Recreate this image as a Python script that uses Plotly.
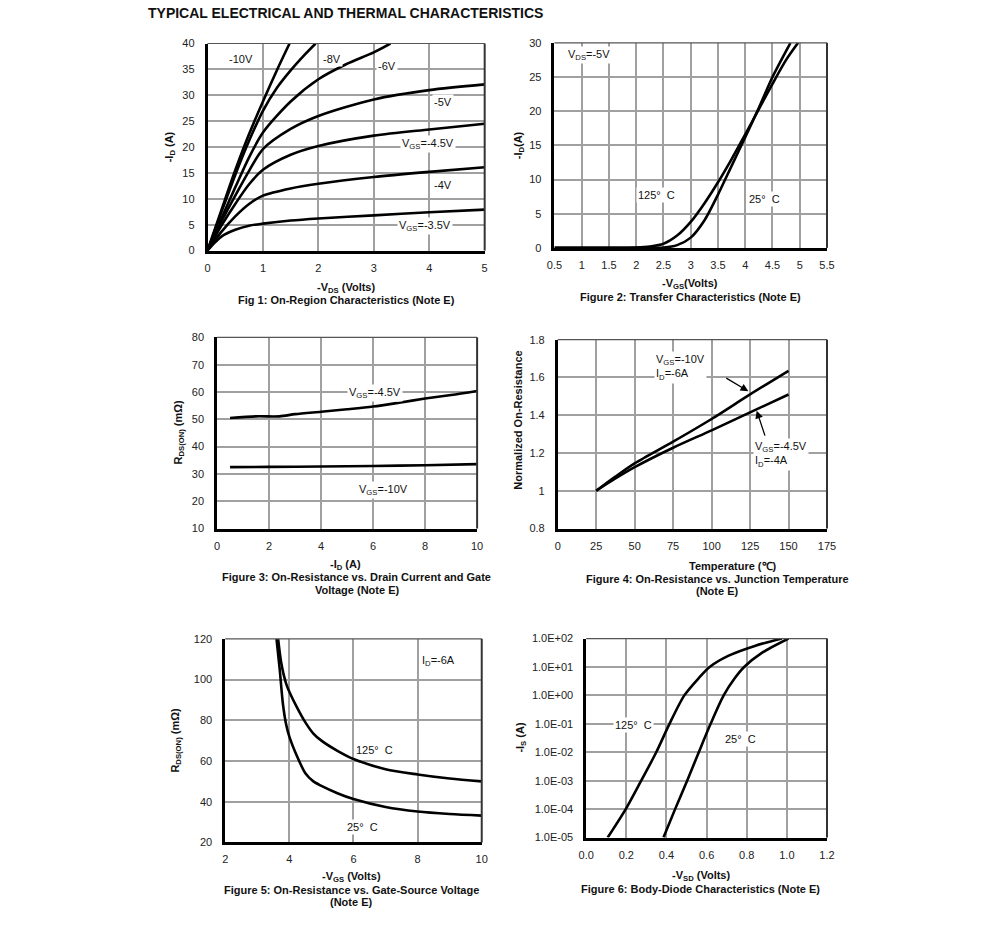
import plotly.graph_objects as go

W, H = 991, 941

# ---------------- Data ----------------
# Fig 1: On-region characteristics  (-VDS, -ID)
f1_vgs10_x = [0, 0.25, 0.5, 0.75, 1.0, 1.25, 1.48]
f1_vgs10_y = [0, 7.8, 15.5, 22.5, 28.8, 34.8, 40]
f1_vgs8_x = [0, 0.25, 0.5, 0.75, 1.0, 1.25, 1.5, 1.75, 1.95]
f1_vgs8_y = [0, 7.4, 14.6, 21.2, 27.0, 31.4, 34.8, 37.8, 40]
f1_vgs6_x = [0, 0.25, 0.5, 0.75, 1.0, 1.5, 2.0, 2.5, 3.0, 3.3]
f1_vgs6_y = [0, 6.2, 12.2, 18.0, 22.8, 28.8, 33.1, 36.0, 38.3, 40]
f1_vgs5_x = [0, 0.25, 0.5, 0.75, 1.0, 1.5, 2.0, 3.0, 4.0, 5.0]
f1_vgs5_y = [0, 5.6, 10.6, 15.4, 19.6, 23.5, 26.0, 29.2, 31.0, 32.1]
f1_vgs45_x = [0, 0.25, 0.5, 0.75, 1.0, 1.5, 2.0, 3.0, 4.0, 5.0]
f1_vgs45_y = [0, 4.8, 9.0, 12.8, 15.6, 18.5, 20.2, 22.2, 23.4, 24.5]
f1_vgs4_x = [0, 0.25, 0.5, 0.75, 1.0, 1.5, 2.0, 3.0, 4.0, 5.0]
f1_vgs4_y = [0, 3.6, 6.6, 9.0, 10.6, 12.0, 12.9, 14.2, 15.2, 16.1]
f1_vgs35_x = [0, 0.1, 0.25, 0.5, 0.75, 1.0, 1.5, 2.0, 3.0, 4.0, 5.0]
f1_vgs35_y = [0, 1.2, 2.7, 4.0, 4.8, 5.2, 5.8, 6.2, 6.8, 7.4, 7.9]

# Fig 2: Transfer characteristics (-VGS, -ID)
f2_125_x = [0.5, 1.5, 2.0, 2.25, 2.5, 2.75, 3.0, 3.25, 3.5, 3.75, 4.0, 4.25, 4.5, 4.75, 4.97]
f2_125_y = [0, 0, 0.05, 0.2, 0.6, 1.8, 3.8, 6.5, 9.6, 13.0, 16.6, 20.3, 24.0, 27.5, 30]
f2_25_x = [0.5, 2.0, 2.5, 2.75, 3.0, 3.25, 3.5, 3.75, 4.0, 4.25, 4.5, 4.83]
f2_25_y = [0, 0, 0.05, 0.4, 1.5, 4.0, 7.8, 12.0, 16.2, 20.5, 25.0, 30]

# Fig 3: RDS(ON) vs ID
f3_45_x = [0.5, 1.5, 2.4, 3, 4, 5, 6, 7, 8, 9, 10]
f3_45_y = [50.5, 51.1, 51.1, 51.9, 52.8, 53.7, 54.7, 56.1, 57.6, 58.9, 60.4]
f3_10_x = [0.5, 2, 4, 6, 8, 10]
f3_10_y = [32.5, 32.6, 32.7, 32.9, 33.2, 33.6]

# Fig 4: Normalized RDS(ON) vs temperature
f4_t = [25, 37.5, 50, 75, 100, 125, 150]
f4_10_y = [1.0, 1.075, 1.145, 1.26, 1.38, 1.51, 1.635]
f4_45_y = [1.0, 1.065, 1.125, 1.228, 1.32, 1.415, 1.51]

# Fig 5: RDS(ON) vs VGS
f5_25_x = [3.6, 3.7, 3.8, 3.9, 4.0, 4.25, 4.5, 4.75, 5, 5.5, 6, 7, 8, 9, 10]
f5_25_y = [120, 105, 88, 78, 72, 62, 54, 50, 47.8, 44.2, 41.3, 37.4, 35.2, 34.0, 33.2]
f5_125_x = [3.65, 3.75, 3.9, 4.0, 4.25, 4.5, 4.75, 5, 5.5, 6, 7, 8, 9, 10]
f5_125_y = [120, 108, 98, 94, 86, 79, 73.5, 70, 65, 61, 56, 53.4, 51.4, 50]

# Fig 6: Body diode (-VSD, -IS)
f6_125_x = [0.107, 0.197, 0.274, 0.349, 0.415, 0.489, 0.56, 0.615, 0.71, 0.84, 0.975]
f6_125_y = [1e-5, 1e-4, 1e-3, 1e-2, 1e-1, 1e0, 4.0, 1e1, 25, 55, 100]
f6_25_x = [0.385, 0.443, 0.503, 0.561, 0.620, 0.685, 0.74, 0.787, 0.877, 1.008]
f6_25_y = [1e-5, 1e-4, 1e-3, 1e-2, 1e-1, 1e0, 4.0, 1e1, 31.8, 100]

f6_tickvals = [1e-5, 1e-4, 1e-3, 1e-2, 1e-1, 1e0, 1e1, 1e2]
f6_ticktext = ["1.0E-05", "1.0E-04", "1.0E-03", "1.0E-02", "1.0E-01", "1.0E+00", "1.0E+01", "1.0E+02"]

# ---------------- Layout geometry (pixels) ----------------
boxes = {
    1: (203, 485, 38, 247.7),
    2: (556, 833.3, 37.3, 245),
    3: (212.7, 477.3, 335.7, 529.3),
    4: (559.3, 833.3, 338, 529.3),
    5: (221, 482, 641, 847.3),
    6: (588.3, 833.3, 640.7, 842.3),
}

FONT = "Liberation Sans, Arial, sans-serif"
fig = go.Figure()

def add_line(n, x, y):
    fig.add_trace(go.Scatter(
        x=x, y=y, mode="lines",
        line=dict(color="black", width=2.6, shape="spline", smoothing=0.8),
        xaxis="x" if n == 1 else f"x{n}", yaxis="y" if n == 1 else f"y{n}",
        showlegend=False, hoverinfo="skip", cliponaxis=True))

for xs, ys in [(f1_vgs10_x, f1_vgs10_y), (f1_vgs8_x, f1_vgs8_y), (f1_vgs6_x, f1_vgs6_y),
               (f1_vgs5_x, f1_vgs5_y), (f1_vgs45_x, f1_vgs45_y), (f1_vgs4_x, f1_vgs4_y),
               (f1_vgs35_x, f1_vgs35_y)]:
    add_line(1, xs, ys)
add_line(2, f2_125_x, f2_125_y)
add_line(2, f2_25_x, f2_25_y)
add_line(3, f3_45_x, f3_45_y)
add_line(3, f3_10_x, f3_10_y)
add_line(4, f4_t, f4_10_y)
add_line(4, f4_t, f4_45_y)
add_line(5, f5_25_x, f5_25_y)
add_line(5, f5_125_x, f5_125_y)
add_line(6, f6_125_x, f6_125_y)
add_line(6, f6_25_x, f6_25_y)

axis_specs = {
    1: dict(x=dict(range=[0, 5], dtick=1), y=dict(range=[0, 40], dtick=5)),
    2: dict(x=dict(range=[0.5, 5.5], dtick=0.5), y=dict(range=[0, 30], dtick=5)),
    3: dict(x=dict(range=[0, 10], dtick=2), y=dict(range=[10, 80], dtick=10)),
    4: dict(x=dict(range=[0, 175], dtick=25), y=dict(range=[0.8, 1.8], dtick=0.2)),
    5: dict(x=dict(range=[2, 10], dtick=2), y=dict(range=[20, 120], dtick=20)),
    6: dict(x=dict(range=[0, 1.2], dtick=0.2, tickformat=".1f"),
            y=dict(type="log", range=[-5, 2], tickvals=f6_tickvals, ticktext=f6_ticktext)),
}

common = dict(showgrid=True, gridcolor="#a0a0a0", gridwidth=1.5, zeroline=False,
              showline=True, linecolor="black", linewidth=2.6, ticks="",
              tickfont=dict(family=FONT, size=11, color="#222"), fixedrange=True)

layout_axes = {}
shapes = []
for n, (x0, x1, y0, y1) in boxes.items():
    xk = "xaxis" if n == 1 else f"xaxis{n}"
    yk = "yaxis" if n == 1 else f"yaxis{n}"
    xa = "x" if n == 1 else f"x{n}"
    ya = "y" if n == 1 else f"y{n}"
    layout_axes[xk] = dict(common, domain=[x0 / W, x1 / W], anchor=ya,
                           ticklabelstandoff=5, **axis_specs[n]["x"])
    layout_axes[yk] = dict(common, domain=[1 - y1 / H, 1 - y0 / H], anchor=xa,
                           ticklabelstandoff=8, **axis_specs[n]["y"])
    # top and right frame lines
    shapes.append(dict(type="line", xref=f"{xa} domain", yref=f"{ya} domain",
                       x0=0, x1=1, y0=1, y1=1, line=dict(color="#555", width=1.2)))
    shapes.append(dict(type="line", xref=f"{xa} domain", yref=f"{ya} domain",
                       x0=1, x1=1, y0=0, y1=1, line=dict(color="#333", width=2)))

ann = []

def lab(n, x, y, text, xanchor="center", align="center"):
    ann.append(dict(x=x, y=y, xref="x" if n == 1 else f"x{n}", yref="y" if n == 1 else f"y{n}",
                    text=text, showarrow=False, xanchor=xanchor, align=align,
                    bgcolor="white", borderpad=1,
                    font=dict(family=FONT, size=11, color="#111")))

# Fig 1 labels
lab(1, 0.60, 37.1, "-10V")
lab(1, 2.25, 37.1, "-8V")
lab(1, 3.23, 35.7, "-6V")
lab(1, 4.25, 28.7, "-5V")
lab(1, 3.97, 20.5, "V<sub>GS</sub>=-4.5V")
lab(1, 4.25, 12.7, "-4V")
lab(1, 3.92, 4.7, "V<sub>GS</sub>=-3.5V")
# Fig 2
lab(2, 1.13, 28.2, "V<sub>DS</sub>=-5V")
lab(2, 2.38, 7.8, "125°  C")
lab(2, 4.36, 7.2, "25°  C")
# Fig 3
lab(3, 6.06, 59.6, "V<sub>GS</sub>=-4.5V")
lab(3, 6.4, 24.2, "V<sub>GS</sub>=-10V")
# Fig 4
lab(4, 62.4, 1.651, "V<sub>GS</sub>=-10V<br>I<sub>D</sub>=-6A", xanchor="left", align="left")
lab(4, 126.8, 1.191, "V<sub>GS</sub>=-4.5V<br>I<sub>D</sub>=-4A", xanchor="left", align="left")
for hx, hy, tx, ty in [(123.9, 1.527, 108.6, 1.601), (129.3, 1.424, 135.0, 1.284)]:
    ann.append(dict(x=hx, y=hy, ax=tx, ay=ty, xref="x4", yref="y4", axref="x4", ayref="y4",
                    text="", showarrow=True, arrowhead=2, arrowsize=1.2, arrowwidth=1.3,
                    arrowcolor="black"))
# Fig 5
lab(5, 8.65, 109.3, "I<sub>D</sub>=-6A")
lab(5, 6.66, 65.2, "125°  C")
lab(5, 6.29, 27.4, "25°  C")
# Fig 6
lab(6, 0.238, -1.03, "125°  C")
lab(6, 0.771, -1.55, "25°  C")

def ptxt(px, py, text, size=11, angle=0, xanchor="center"):
    ann.append(dict(x=px / W, y=1 - py / H, xref="paper", yref="paper", text=text,
                    showarrow=False, textangle=angle, xanchor=xanchor, yanchor="middle",
                    font=dict(family=FONT, size=size, color="#111")))

B = lambda s: f"<b>{s}</b>"
ptxt(140, 7, B("TYPICAL ELECTRICAL AND THERMAL CHARACTERISTICS"), size=14, xanchor="left")
# x titles / captions
ptxt(344, 286, B("-V<sub>DS</sub> (Volts)"))
ptxt(344, 298, B("Fig 1: On-Region Characteristics (Note E)"))
ptxt(694, 282, B("-V<sub>GS</sub>(Volts)"))
ptxt(694, 295, B("Figure 2: Transfer Characteristics (Note E)"))
ptxt(343, 566, B("-I<sub>D</sub> (A)"))
ptxt(355, 578, B("Figure 3: On-Resistance vs. Drain Current and Gate"))
ptxt(355, 592, B("Voltage (Note E)"))
ptxt(738, 567, B("Temperature (℃)"))
ptxt(722, 580, B("Figure 4: On-Resistance vs. Junction Temperature"))
ptxt(722, 593, B("(Note E)"))
ptxt(349, 882, B("-V<sub>GS</sub> (Volts)"))
ptxt(349, 895, B("Figure 5: On-Resistance vs. Gate-Source Voltage"))
ptxt(349, 908, B("(Note E)"))
ptxt(705, 881, B("-V<sub>SD</sub> (Volts)"))
ptxt(705, 894, B("Figure 6: Body-Diode Characteristics (Note E)"))
# y titles
ptxt(165, 143, B("-I<sub>D</sub> (A)"), angle=-90)
ptxt(520, 141, B("-I<sub>D</sub>(A)"), angle=-90)
ptxt(174, 432, B("R<sub>DS(ON)</sub> (mΩ)"), angle=-90)
ptxt(519, 420, B("Normalized On-Resistance"), angle=-90)
ptxt(170, 744, B("R<sub>DS(ON)</sub> (mΩ)"), angle=-90)
ptxt(521, 741, B("-I<sub>S</sub> (A)"), angle=-90)

fig.update_layout(
    width=W, height=H, autosize=False,
    margin=dict(l=0, r=0, t=0, b=0),
    paper_bgcolor="white", plot_bgcolor="white",
    showlegend=False,
    annotations=ann, shapes=shapes,
    font=dict(family=FONT, size=11, color="#111"),
    **layout_axes,
)

fig.write_html("out.html", config={"displayModeBar": False})

# remove default page margins so the figure sits at the window origin
with open("out.html", "r", encoding="utf-8") as fh:
    html = fh.read()
style = "<style>html,body{margin:0;padding:0;overflow:hidden;background:white;}</style>"
if "<head>" in html:
    html = html.replace("<head>", "<head>" + style, 1)
else:
    html = style + html
with open("out.html", "w", encoding="utf-8") as fh:
    fh.write(html)
